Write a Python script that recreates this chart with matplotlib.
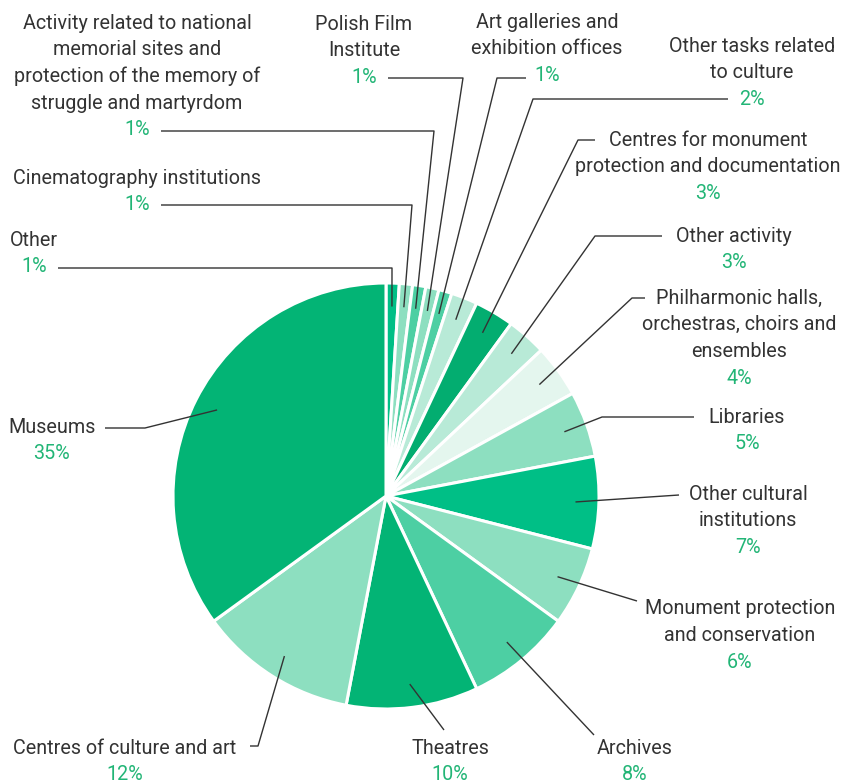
import matplotlib
matplotlib.use("Agg")
import matplotlib.pyplot as plt
import numpy as np

W, H = 842, 784

categories = [
    "Other",
    "Cinematography institutions",
    "Activity related to national\nmemorial sites and\nprotection of the memory of\nstruggle and martyrdom",
    "Polish Film\nInstitute",
    "Art galleries and\nexhibition offices",
    "Other tasks related\nto culture",
    "Centres for monument\nprotection and documentation",
    "Other activity",
    "Philharmonic halls,\norchestras, choirs and\nensembles",
    "Libraries",
    "Other cultural\ninstitutions",
    "Monument protection\nand conservation",
    "Archives",
    "Theatres",
    "Centres of culture and art",
    "Museums",
]
shares = [1, 1, 1, 1, 1, 2, 3, 3, 4, 5, 7, 6, 8, 10, 12, 35]

slice_colors = [
    "#00bf86", "#8ddfc0", "#4dcfa3", "#8ddfc0", "#4dcfa3", "#b8ead7",
    "#03ad70", "#b8ead7", "#e4f6ee", "#8ddfc0", "#00bf86", "#8ddfc0",
    "#4dcfa3", "#03b475", "#8ddfc0", "#03b475",
]

# label placement in pixel space (y measured from top):
# leader path after the wedge anchor, text centre x, first text line y
LAYOUT = [
    ([(392, 268), (58, 268)], 34, 240),
    ([(412, 205), (161, 205)], 137, 178),
    ([(434, 131), (161, 131)], 137, 23),
    ([(463, 78), (388, 78)], 364, 24),
    ([(497, 78), (526, 78)], 547, 22),
    ([(533, 99), (728, 99)], 752, 46),
    ([(578, 140), (595, 140)], 708, 140),
    ([(595, 236), (662, 236)], 734, 236),
    ([(632, 298), (645, 298)], 739, 298),
    ([(602, 417), (694, 417)], 747, 417),
    ([(679, 495)], 748, 494),
    ([(637, 601)], 740, 609),
    ([(594, 735)], 635, 748),
    ([(444, 730)], 450, 748),
    ([(258, 746), (250, 746)], 125, 748),
    ([(145, 428), (105, 428)], 52, 427),
]

LINE_H = 26.7
CENTER = (386, H - 496)
RADIUS = 213
TEXT_COLOR = "#333333"
PCT_COLOR = "#22b576"
FONT_SIZE = 14.2

plt.rcParams["font.family"] = ["Roboto", "DejaVu Sans"]

fig = plt.figure(figsize=(W / 100, H / 100), dpi=100)
ax = fig.add_axes([0, 0, 1, 1])

wedges, _ = ax.pie(
    shares, colors=slice_colors, startangle=90, counterclock=False,
    center=CENTER, radius=RADIUS,
    wedgeprops=dict(edgecolor="white", linewidth=2.2),
)
# pie() resets the limits, so fix the pixel-sized frame afterwards
ax.set_xlim(0, W)
ax.set_ylim(0, H)
ax.set_aspect("equal")
ax.axis("off")

for wedge, label, share, (path, tx, ty) in zip(wedges, categories, shares, LAYOUT):
    mid = np.deg2rad((wedge.theta1 + wedge.theta2) / 2)
    ax0 = CENTER[0] + 0.89 * RADIUS * np.cos(mid)
    ay0 = CENTER[1] + 0.89 * RADIUS * np.sin(mid)
    xs = [ax0] + [p[0] for p in path]
    ys = [ay0] + [H - p[1] for p in path]
    ax.plot(xs, ys, color=TEXT_COLOR, lw=1.0, solid_capstyle="butt")

    lines = label.split("\n")
    for i, line in enumerate(lines):
        ax.text(tx, H - (ty + i * LINE_H), line, ha="center", va="center",
                fontsize=FONT_SIZE, color=TEXT_COLOR)
    ax.text(tx, H - (ty + len(lines) * LINE_H), f"{share}%", ha="center",
            va="center", fontsize=FONT_SIZE, color=PCT_COLOR)

fig.savefig("out.png", dpi=100, facecolor="white")
